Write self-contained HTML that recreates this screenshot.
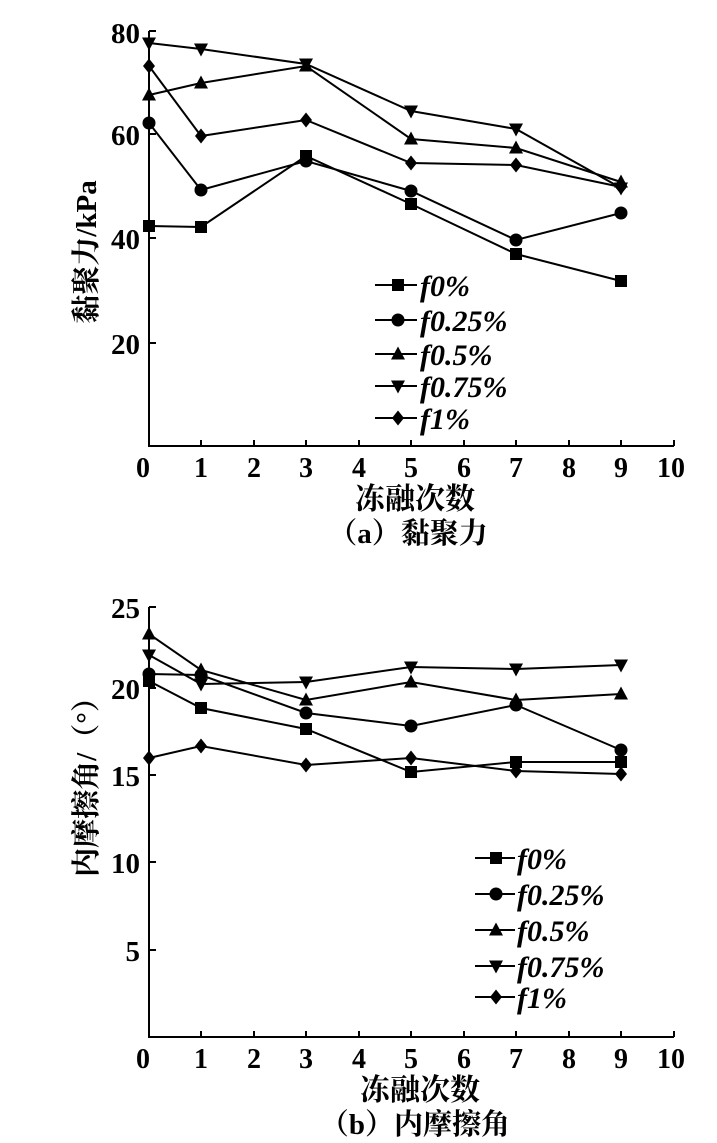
<!DOCTYPE html>
<html><head><meta charset="utf-8"><style>body{margin:0;background:#fff}svg{display:block}</style></head>
<body>
<svg width="717" height="1143" xmlns="http://www.w3.org/2000/svg" font-family="Liberation Serif, Noto Serif CJK SC, serif" fill="#000">
<defs>
<g id="sq"><rect x="-6" y="-6" width="12" height="12"/></g>
<g id="ci"><circle r="6.5"/></g>
<g id="tu"><polygon points="0,-7.5 7,5.5 -7,5.5"/></g>
<g id="td"><polygon points="0,7.5 7,-5.5 -7,-5.5"/></g>
<g id="di"><polygon points="0,-7.5 6,0 0,7.5 -6,0"/></g>
</defs>
<g stroke="#000" stroke-width="2" fill="none">
<path d="M149,31 V446 H674"/>
<path d="M149,31 h7 M149,134 h7 M149,238 h7 M149,343 h7"/>
<path d="M201,446 v-6 M254,446 v-6 M306,446 v-6 M359,446 v-6 M411,446 v-6 M464,446 v-6 M516,446 v-6 M569,446 v-6 M621,446 v-6 M674,446 v-6"/>
<path d="M149,607 V1037 H674"/>
<path d="M149,607 h7 M149,688 h7 M149,775 h7 M149,862 h7 M149,950 h7"/>
<path d="M201,1037 v-6 M254,1037 v-6 M306,1037 v-6 M359,1037 v-6 M411,1037 v-6 M464,1037 v-6 M516,1037 v-6 M569,1037 v-6 M621,1037 v-6 M674,1037 v-6"/>
</g>
<g font-size="29" font-weight="bold" text-anchor="end">
<text x="140" y="43">80</text><text x="140" y="145">60</text><text x="140" y="249">40</text><text x="140" y="354">20</text>
<text x="140" y="618">25</text><text x="140" y="699">20</text><text x="140" y="786">15</text><text x="140" y="873">10</text><text x="140" y="961">5</text>
</g>
<g font-size="28" font-weight="bold" text-anchor="middle">
<text x="143" y="477">0</text><text x="201" y="477">1</text><text x="254" y="477">2</text><text x="306" y="477">3</text><text x="359" y="477">4</text><text x="411" y="477">5</text><text x="464" y="477">6</text><text x="516" y="477">7</text><text x="569" y="477">8</text><text x="621" y="477">9</text><text x="671" y="477">10</text>
<text x="143" y="1068">0</text><text x="201" y="1068">1</text><text x="254" y="1068">2</text><text x="306" y="1068">3</text><text x="359" y="1068">4</text><text x="411" y="1068">5</text><text x="464" y="1068">6</text><text x="516" y="1068">7</text><text x="569" y="1068">8</text><text x="621" y="1068">9</text><text x="671" y="1068">10</text>
<text x="415" y="509" font-size="30">冻融次数</text>
<text x="408" y="543" font-size="29">（a）黏聚力</text>
<text x="420" y="1100" font-size="30">冻融次数</text>
<text x="415" y="1134" font-size="29">（b）内摩擦角</text>
<text transform="translate(96,252) rotate(-90)" font-size="29">黏聚力/kPa</text>
<text transform="translate(96,780) rotate(-90)" font-size="29">内摩擦角/（°）</text>
</g>
<g stroke="#000" stroke-width="2" fill="none">
<polyline points="149,226 201,227 306,156 411,204 516,254 621,281"/>
<polyline points="149,123 201,190 306,161 411,191 516,240 621,213"/>
<polyline points="149,95 201,83 306,66 411,139 516,148 621,182"/>
<polyline points="149,43 201,49 306,64 411,111 516,129 621,188"/>
<polyline points="149,66 201,136 306,120 411,163 516,165 621,187"/>
</g>
<use href="#sq" x="149" y="226"/><use href="#sq" x="201" y="227"/><use href="#sq" x="306" y="156"/><use href="#sq" x="411" y="204"/><use href="#sq" x="516" y="254"/><use href="#sq" x="621" y="281"/>
<use href="#ci" x="149" y="123"/><use href="#ci" x="201" y="190"/><use href="#ci" x="306" y="161"/><use href="#ci" x="411" y="191"/><use href="#ci" x="516" y="240"/><use href="#ci" x="621" y="213"/>
<use href="#tu" x="149" y="95"/><use href="#tu" x="201" y="83"/><use href="#tu" x="306" y="66"/><use href="#tu" x="411" y="139"/><use href="#tu" x="516" y="148"/><use href="#tu" x="621" y="182"/>
<use href="#td" x="149" y="43"/><use href="#td" x="201" y="49"/><use href="#td" x="306" y="64"/><use href="#td" x="411" y="111"/><use href="#td" x="516" y="129"/><use href="#td" x="621" y="188"/>
<use href="#di" x="149" y="66"/><use href="#di" x="201" y="136"/><use href="#di" x="306" y="120"/><use href="#di" x="411" y="163"/><use href="#di" x="516" y="165"/><use href="#di" x="621" y="187"/>
<g stroke="#000" stroke-width="2" fill="none">
<polyline points="149,681 201,708 306,729 411,772 516,762 621,762"/>
<polyline points="149,674 201,675 306,713 411,726 516,705 621,750"/>
<polyline points="149,634 201,670 306,700 411,682 516,700 621,694"/>
<polyline points="149,655 201,684 306,682 411,667 516,669 621,665"/>
<polyline points="149,758 201,746 306,765 411,758 516,771 621,774"/>
</g>
<use href="#sq" x="149" y="681"/><use href="#sq" x="201" y="708"/><use href="#sq" x="306" y="729"/><use href="#sq" x="411" y="772"/><use href="#sq" x="516" y="762"/><use href="#sq" x="621" y="762"/>
<use href="#ci" x="149" y="674"/><use href="#ci" x="201" y="675"/><use href="#ci" x="306" y="713"/><use href="#ci" x="411" y="726"/><use href="#ci" x="516" y="705"/><use href="#ci" x="621" y="750"/>
<use href="#tu" x="149" y="634"/><use href="#tu" x="201" y="670"/><use href="#tu" x="306" y="700"/><use href="#tu" x="411" y="682"/><use href="#tu" x="516" y="700"/><use href="#tu" x="621" y="694"/>
<use href="#td" x="149" y="655"/><use href="#td" x="201" y="684"/><use href="#td" x="306" y="682"/><use href="#td" x="411" y="667"/><use href="#td" x="516" y="669"/><use href="#td" x="621" y="665"/>
<use href="#di" x="149" y="758"/><use href="#di" x="201" y="746"/><use href="#di" x="306" y="765"/><use href="#di" x="411" y="758"/><use href="#di" x="516" y="771"/><use href="#di" x="621" y="774"/>
<g stroke="#000" stroke-width="2">
<path d="M375,285 h42 M375,320 h42 M375,354 h42 M375,386 h42 M375,418 h42"/>
<path d="M475,858 h40 M475,894 h40 M475,930 h40 M475,966 h40 M475,997 h40"/>
</g>
<use href="#sq" x="398" y="285"/><use href="#ci" x="398" y="320"/><use href="#tu" x="398" y="354"/><use href="#td" x="398" y="386"/><use href="#di" x="398" y="418"/>
<use href="#sq" x="496" y="858"/><use href="#ci" x="496" y="894"/><use href="#tu" x="496" y="930"/><use href="#td" x="496" y="966"/><use href="#di" x="496" y="997"/>
<g font-size="30" font-style="italic" font-weight="bold">
<text x="420" y="296">f0%</text><text x="420" y="331">f0.25%</text><text x="420" y="365">f0.5%</text><text x="420" y="397">f0.75%</text><text x="420" y="429">f1%</text>
<text x="517" y="869">f0%</text><text x="517" y="905">f0.25%</text><text x="517" y="941">f0.5%</text><text x="517" y="977">f0.75%</text><text x="517" y="1008">f1%</text>
</g>
</svg>
</body></html>
